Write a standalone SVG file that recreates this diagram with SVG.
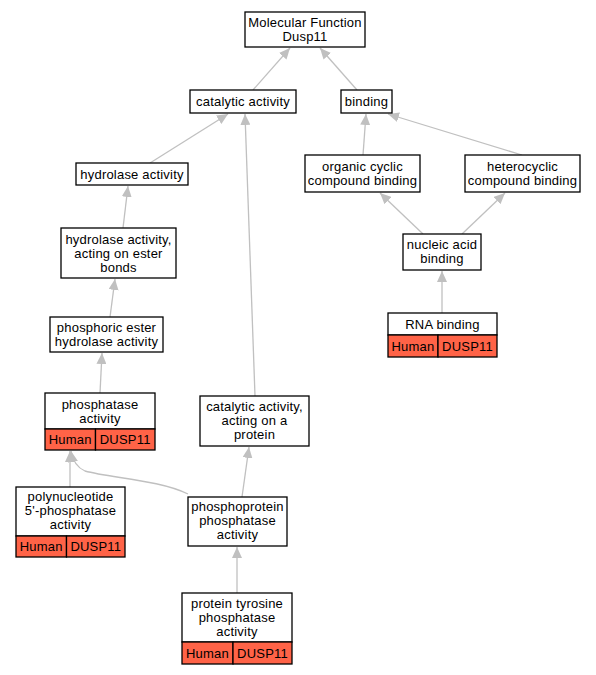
<svg xmlns="http://www.w3.org/2000/svg" width="596" height="675" viewBox="0 0 596 675">
<style>
.t{font-family:"Liberation Sans",Arial,sans-serif;font-size:13px;letter-spacing:0.2px;text-anchor:middle;fill:#000}
.b{fill:#fff;stroke:#000;stroke-width:1.3}
.r{fill:#ff6347;stroke:#000;stroke-width:1.3}
.e{fill:none;stroke:#c0c0c0;stroke-width:1.3;marker-end:url(#ah)}
</style>
<defs>
<marker id="ah" markerUnits="userSpaceOnUse" markerWidth="12" markerHeight="10" refX="11" refY="5" orient="auto">
<path d="M0,0 L11,5 L0,10 z" fill="#c0c0c0"/>
</marker>
</defs>
<rect width="596" height="675" fill="#fff"/>
<g id="connectors">
<path class="e" d="M253,90 L290,48"/>
<path class="e" d="M357,90 L320,48"/>
<path class="e" d="M150,163 L228,114"/>
<path class="e" d="M255,396 L245,114"/>
<path class="e" d="M363,155 L366,114"/>
<path class="e" d="M522,155 L388,114"/>
<path class="e" d="M123,228 L128,186"/>
<path class="e" d="M110,317 L115,279"/>
<path class="e" d="M100,393 L102,353"/>
<path class="e" d="M423,234 L380,193"/>
<path class="e" d="M462,234 L505,193"/>
<path class="e" d="M442,313 L442,271"/>
<path class="e" d="M70,487 L70,451"/>
<path class="e" d="M188,494 C160,480 110,478 85,471 C78,468 73,462 71,451"/>
<path class="e" d="M242,497 L249,447"/>
<path class="e" d="M237,593 L237,547"/>
</g>
<g id="n_mf">
<rect class="b" x="245" y="12" width="120" height="35"/>
<text class="t" x="305" y="27">Molecular Function</text>
<text class="t" x="305" y="41">Dusp11</text>
</g>
<g id="n_catalytic">
<rect class="b" x="190" y="90" width="106" height="23"/>
<text class="t" x="243" y="106">catalytic activity</text>
</g>
<g id="n_binding">
<rect class="b" x="341" y="90" width="51" height="23"/>
<text class="t" x="366.5" y="106">binding</text>
</g>
<g id="n_hydrolase">
<rect class="b" x="76" y="163" width="112" height="22"/>
<text class="t" x="132" y="178.5">hydrolase activity</text>
</g>
<g id="n_hydroester">
<rect class="b" x="61" y="228" width="115" height="50"/>
<text class="t" x="118.5" y="243.5">hydrolase activity,</text>
<text class="t" x="118.5" y="257.5">acting on ester</text>
<text class="t" x="118.5" y="271.5">bonds</text>
</g>
<g id="n_phosphoric">
<rect class="b" x="50" y="317" width="113" height="35"/>
<text class="t" x="106.5" y="331.5">phosphoric ester</text>
<text class="t" x="106.5" y="345.5">hydrolase activity</text>
</g>
<g id="n_organic">
<rect class="b" x="305" y="155" width="115" height="37"/>
<text class="t" x="362.5" y="170.5">organic cyclic</text>
<text class="t" x="362.5" y="184.5">compound binding</text>
</g>
<g id="n_hetero">
<rect class="b" x="465" y="155" width="115" height="37"/>
<text class="t" x="522.5" y="170.5">heterocyclic</text>
<text class="t" x="522.5" y="184.5">compound binding</text>
</g>
<g id="n_nucleic">
<rect class="b" x="403" y="234" width="78" height="36"/>
<text class="t" x="442" y="249.3">nucleic acid</text>
<text class="t" x="442" y="263.3">binding</text>
</g>
<g id="n_rna">
<rect class="b" x="388" y="313" width="109" height="22"/>
<rect class="r" x="388" y="335" width="50" height="22"/>
<rect class="r" x="438" y="335" width="59" height="22"/>
<text class="t" x="442.5" y="328.5">RNA binding</text>
<text class="t" x="413" y="350.5">Human</text>
<text class="t" x="467.5" y="350.5">DUSP11</text>
</g>
<g id="n_phosphatase">
<rect class="b" x="45" y="393" width="110" height="36"/>
<rect class="r" x="45" y="429" width="50.5" height="21"/>
<rect class="r" x="95.5" y="429" width="59.5" height="21"/>
<text class="t" x="100" y="408.5">phosphatase</text>
<text class="t" x="100" y="422.5">activity</text>
<text class="t" x="70.2" y="444">Human</text>
<text class="t" x="125.2" y="444">DUSP11</text>
</g>
<g id="n_catprot">
<rect class="b" x="200" y="396" width="109" height="50"/>
<text class="t" x="254.5" y="411.3">catalytic activity,</text>
<text class="t" x="254.5" y="425.3">acting on a</text>
<text class="t" x="254.5" y="439.3">protein</text>
</g>
<g id="n_polynuc">
<rect class="b" x="16" y="487" width="109" height="49"/>
<rect class="r" x="16" y="536" width="50.5" height="21"/>
<rect class="r" x="66.5" y="536" width="58.5" height="21"/>
<text class="t" x="70.5" y="500.8">polynucleotide</text>
<text class="t" x="70.5" y="514.8">5'-phosphatase</text>
<text class="t" x="70.5" y="528.8">activity</text>
<text class="t" x="41.2" y="551">Human</text>
<text class="t" x="95.8" y="551">DUSP11</text>
</g>
<g id="n_phosphoprotein">
<rect class="b" x="188" y="497" width="99" height="49"/>
<text class="t" x="237.5" y="511.3">phosphoprotein</text>
<text class="t" x="237.5" y="525.3">phosphatase</text>
<text class="t" x="237.5" y="539.3">activity</text>
</g>
<g id="n_tyrosine">
<rect class="b" x="182" y="593" width="110" height="49"/>
<rect class="r" x="182" y="642" width="51" height="22"/>
<rect class="r" x="233" y="642" width="59" height="22"/>
<text class="t" x="237" y="607.5">protein tyrosine</text>
<text class="t" x="237" y="621.5">phosphatase</text>
<text class="t" x="237" y="635.5">activity</text>
<text class="t" x="207.5" y="657.5">Human</text>
<text class="t" x="262.5" y="657.5">DUSP11</text>
</g>
</svg>
